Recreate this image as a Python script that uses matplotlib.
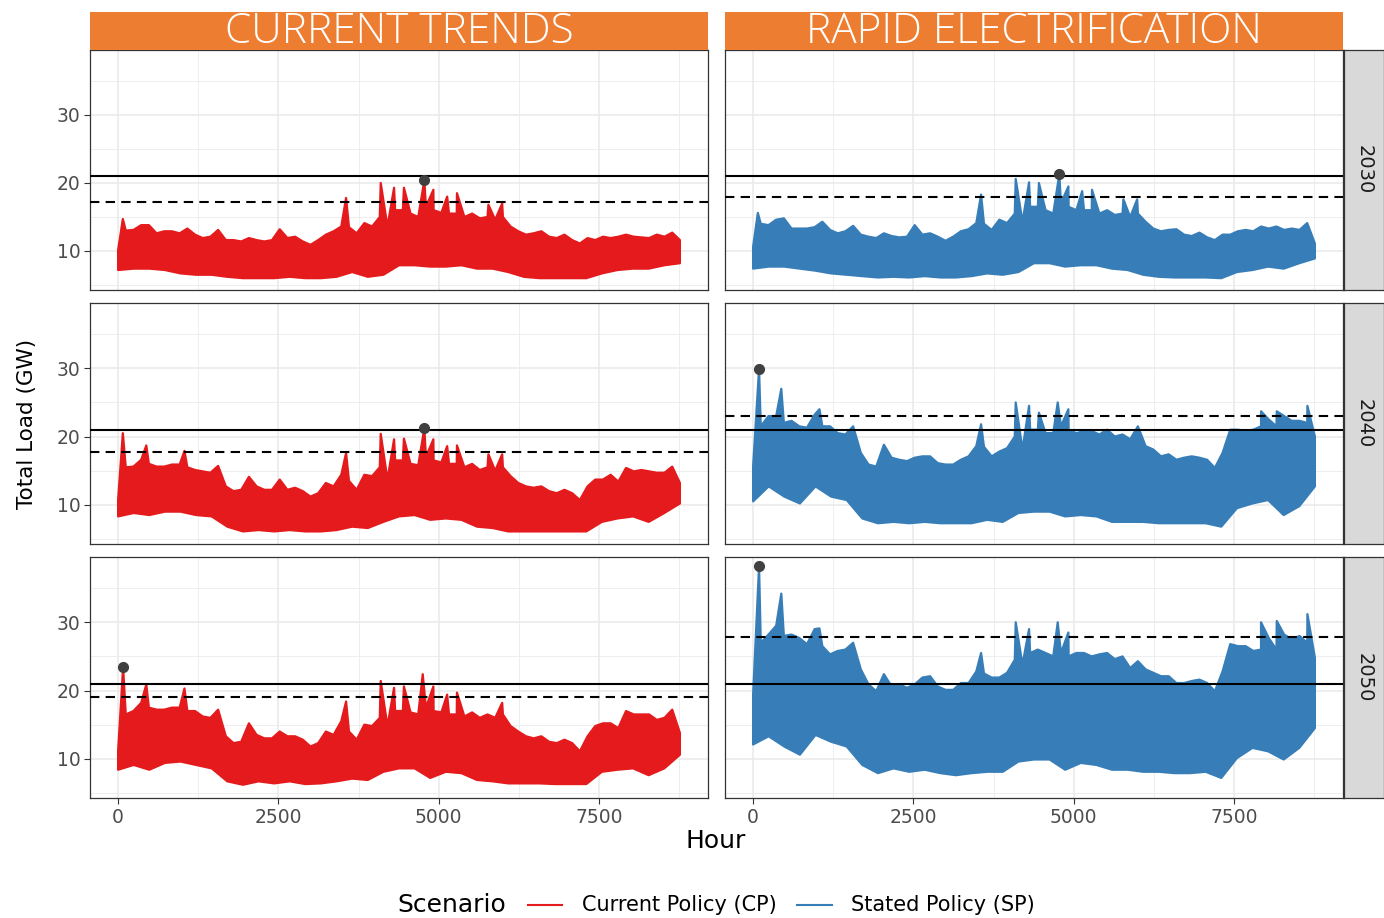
import numpy as np
import matplotlib.pyplot as plt
from matplotlib.lines import Line2D

# hourly load read off as envelopes: upper body every 120 h, lower every ~243 h,
# plus the narrow spikes that stick out above the body
HOURS_HI = np.linspace(0, 8760, 74)
HOURS_LO = np.linspace(0, 8760, 37)

CP_2030_HI = [10.1, 13.0, 13.1, 13.8, 13.8, 12.6, 12.9, 12.9, 12.6, 13.3, 12.4, 11.9, 12.1, 13.1, 11.6,
              11.6, 11.4, 11.9, 11.6, 11.4, 11.6, 13.2, 11.9, 12.1, 11.4, 10.9, 11.6, 12.4, 12.9, 13.6,
              13.5, 12.6, 14.1, 13.6, 15.0, 13.6, 16.0, 16.0, 15.5, 15.0, 16.5, 16.0, 15.6, 15.5, 15.5,
              15.0, 15.5, 14.8, 15.0, 14.6, 15.0, 13.6, 12.9, 12.4, 12.6, 12.9, 12.1, 11.9, 12.4, 11.6,
              11.1, 11.9, 11.6, 12.1, 11.9, 12.1, 12.4, 12.1, 12.0, 11.9, 12.4, 12.1, 12.7, 11.6]
CP_2030_LO = [7.2, 7.4, 7.4, 7.2, 6.7, 6.5, 6.5, 6.2, 6.0, 6.0, 6.0, 6.2, 6.0, 6.0, 6.2, 6.9, 6.2, 6.5,
              7.9, 7.9, 7.7, 7.7, 7.9, 7.4, 7.4, 6.9, 6.2, 6.0, 6.0, 6.0, 6.0, 6.7, 7.2, 7.4, 7.4, 7.9, 8.2]
CP_2030_SPIKE_H = [74, 3555, 4095, 4303, 4457, 4775, 4916, 5131, 5284, 5774, 5989]
CP_2030_SPIKE_V = [14.7, 17.8, 20.0, 19.3, 19.3, 20.4, 19.0, 18.0, 18.5, 16.8, 17.0]

SP_2030_HI = [10.6, 14.0, 13.8, 14.6, 14.8, 13.3, 13.3, 13.3, 13.5, 14.3, 13.1, 12.6, 12.9, 13.7, 12.4,
              12.1, 11.9, 12.6, 12.2, 12.0, 12.1, 13.8, 12.4, 12.6, 12.1, 11.5, 12.1, 12.9, 13.2, 14.1,
              14.0, 13.1, 14.6, 14.1, 15.5, 14.3, 16.5, 16.5, 16.0, 15.5, 17.0, 16.5, 16.0, 16.0, 16.0,
              15.5, 16.0, 15.3, 15.5, 15.0, 15.5, 14.3, 13.3, 12.9, 13.1, 13.2, 12.4, 12.2, 12.7, 12.0,
              11.6, 12.4, 12.4, 12.9, 13.1, 12.9, 13.6, 13.3, 13.6, 13.1, 13.3, 13.1, 14.1, 11.1]
SP_2030_LO = [7.4, 7.7, 7.7, 7.4, 7.1, 6.7, 6.5, 6.3, 6.1, 6.2, 6.1, 6.3, 6.1, 6.1, 6.3, 6.7, 6.5, 6.9,
              8.2, 8.2, 7.7, 7.9, 7.9, 7.4, 7.2, 6.5, 6.2, 6.1, 6.1, 6.1, 6.0, 6.9, 7.2, 7.7, 7.4, 8.2, 8.9]
SP_2030_SPIKE_H = [74, 3555, 4095, 4303, 4457, 4775, 4916, 5131, 5284, 5774, 5989]
SP_2030_SPIKE_V = [15.6, 18.3, 20.6, 20.1, 20.0, 21.3, 19.5, 18.8, 19.0, 17.6, 17.6]

CP_2040_HI = [10.7, 15.5, 15.6, 16.6, 16.0, 15.6, 15.6, 15.9, 15.9, 15.5, 15.1, 14.9, 14.7, 15.7, 12.7,
              12.0, 12.2, 14.1, 12.7, 12.2, 12.2, 13.7, 12.2, 12.5, 12.0, 11.2, 11.7, 13.2, 12.7, 14.4,
              13.5, 12.2, 14.4, 14.2, 15.5, 13.7, 16.5, 16.5, 16.0, 15.8, 17.0, 16.5, 16.2, 16.0, 16.0,
              15.5, 16.0, 15.1, 15.5, 15.0, 15.5, 14.2, 13.2, 12.7, 12.5, 12.7, 12.0, 11.7, 12.2, 11.7,
              10.7, 12.7, 13.7, 13.7, 14.4, 13.4, 15.4, 14.9, 15.1, 14.9, 14.7, 14.7, 15.6, 13.2]
CP_2040_LO = [8.3, 8.8, 8.5, 9.0, 9.0, 8.5, 8.3, 6.8, 6.1, 6.3, 6.1, 6.3, 6.1, 6.1, 6.3, 6.8, 6.6, 7.5,
              8.3, 8.5, 7.8, 8.0, 7.8, 6.8, 6.6, 6.1, 6.1, 6.1, 6.1, 6.1, 6.1, 7.5, 8.0, 8.3, 7.5, 8.8, 10.2]
CP_2040_SPIKE_H = [74, 440, 1035, 3555, 4095, 4303, 4457, 4775, 4916, 5131, 5284, 5774, 5989]
CP_2040_SPIKE_V = [20.5, 18.7, 17.9, 17.6, 20.4, 19.6, 19.7, 21.2, 19.6, 18.6, 18.7, 17.4, 17.4]

SP_2040_HI = [15.6, 21.5, 23.0, 23.0, 22.0, 22.3, 21.5, 21.3, 23.2, 21.5, 21.5, 20.5, 20.3, 21.5, 17.6,
              15.9, 15.6, 18.8, 16.9, 16.6, 16.4, 16.9, 17.1, 17.1, 16.1, 15.9, 15.9, 16.6, 17.1, 18.6,
              18.5, 17.1, 17.8, 18.3, 20.0, 18.1, 21.0, 21.0, 20.5, 20.5, 21.5, 21.0, 20.5, 20.8, 20.8,
              20.3, 21.0, 20.0, 20.3, 19.6, 21.5, 18.6, 18.1, 17.1, 17.4, 16.6, 16.9, 17.1, 16.9, 16.6,
              15.4, 17.6, 21.0, 21.0, 20.8, 21.0, 21.5, 22.5, 21.5, 23.0, 22.3, 22.3, 22.0, 20.0]
SP_2040_LO = [10.5, 12.7, 11.2, 10.2, 12.7, 11.2, 10.7, 8.0, 7.3, 7.5, 7.3, 7.5, 7.3, 7.3, 7.3, 7.8, 7.5,
              8.8, 9.0, 9.0, 8.3, 8.5, 8.3, 7.5, 7.5, 7.5, 7.3, 7.3, 7.3, 7.3, 6.8, 9.5, 10.2, 10.7, 8.5,
              9.8, 12.7]
SP_2040_SPIKE_H = [93, 440, 1035, 3555, 4095, 4303, 4457, 4750, 4916, 7920, 8165, 8643]
SP_2040_SPIKE_V = [29.9, 27.0, 24.0, 21.8, 25.0, 24.5, 23.5, 25.0, 24.0, 23.7, 23.7, 24.5]

CP_2050_HI = [11.1, 16.5, 17.0, 18.2, 17.5, 17.2, 17.2, 17.5, 17.5, 17.0, 17.0, 16.2, 16.0, 17.2, 13.3,
              12.3, 12.5, 15.2, 13.5, 13.0, 13.0, 14.0, 13.3, 13.3, 12.8, 11.8, 12.3, 14.0, 13.5, 15.5,
              14.0, 12.8, 15.0, 14.8, 16.0, 14.8, 17.0, 17.0, 16.8, 16.5, 17.5, 17.0, 16.8, 16.5, 16.5,
              16.2, 16.8, 16.0, 16.5, 16.0, 16.5, 14.8, 14.0, 13.3, 13.0, 13.3, 12.5, 12.3, 12.8, 12.3,
              11.1, 13.3, 14.8, 15.2, 15.2, 14.5, 17.0, 16.5, 16.5, 16.5, 15.7, 16.0, 17.2, 13.8]
CP_2050_LO = [8.4, 9.1, 8.4, 9.4, 9.6, 9.1, 8.6, 6.7, 6.2, 6.7, 6.4, 6.7, 6.3, 6.4, 6.7, 7.1, 6.9, 8.1,
              8.6, 8.6, 7.2, 8.1, 7.9, 6.9, 6.7, 6.4, 6.4, 6.4, 6.3, 6.3, 6.3, 8.1, 8.4, 8.6, 7.6, 8.6, 10.6]
CP_2050_SPIKE_H = [78, 440, 1035, 3555, 4095, 4303, 4457, 4750, 4916, 5131, 5284, 5989]
CP_2050_SPIKE_V = [23.4, 20.9, 20.3, 18.4, 21.4, 20.4, 20.6, 22.4, 20.6, 19.4, 19.7, 18.2]

SP_2050_HI = [19.4, 27.0, 28.2, 29.5, 28.0, 28.2, 27.7, 26.8, 29.0, 26.5, 25.3, 25.8, 26.0, 27.0, 23.1,
              20.9, 19.9, 22.4, 20.6, 20.9, 20.4, 20.9, 21.9, 22.1, 20.6, 20.1, 20.1, 21.1, 21.1, 22.8,
              22.5, 21.9, 21.9, 22.6, 24.5, 23.8, 25.5, 26.0, 25.5, 25.0, 25.5, 25.0, 25.5, 25.5, 25.0,
              25.3, 25.5, 24.6, 25.0, 23.3, 24.3, 23.1, 22.6, 22.1, 22.1, 21.1, 21.1, 21.4, 21.6, 21.1,
              19.9, 22.8, 26.8, 26.5, 26.5, 25.8, 26.0, 27.7, 26.0, 28.2, 27.5, 28.0, 27.0, 24.8]
SP_2050_LO = [12.1, 13.3, 11.8, 10.6, 13.5, 12.5, 11.8, 9.1, 7.9, 8.6, 8.1, 8.4, 7.9, 7.6, 7.9, 8.1, 8.1,
              9.6, 9.9, 9.9, 8.4, 9.4, 9.1, 8.4, 8.4, 8.1, 8.1, 7.9, 7.9, 8.1, 7.2, 10.1, 11.6, 11.1, 9.9,
              11.6, 14.5]
SP_2050_SPIKE_H = [93, 440, 1035, 3555, 4095, 4303, 4750, 4916, 7920, 8165, 8643]
SP_2050_SPIKE_V = [38.2, 34.2, 29.1, 25.5, 30.0, 29.0, 30.0, 28.5, 30.0, 30.2, 31.2]

YEARS = ['2030', '2040', '2050']
PANEL_TITLES = ['CURRENT TRENDS', 'RAPID ELECTRIFICATION']
SCENARIOS = ['Current Policy (CP)', 'Stated Policy (SP)']
CAPACITY = 21.0
CP_DASHED = [17.2, 17.8, 19.0]
SP_DASHED = [17.9, 23.0, 27.8]
CP_PEAK_HOUR = [4775, 4775, 78]
CP_PEAK_LOAD = [20.4, 21.2, 23.4]
SP_PEAK_HOUR = [4775, 93, 93]
SP_PEAK_LOAD = [21.3, 29.9, 38.2]

COLORS = ['#E41A1C', '#377EB8']
ORANGE = '#ED7D31'

series = {
    (0, 0): (CP_2030_HI, CP_2030_LO, CP_2030_SPIKE_H, CP_2030_SPIKE_V),
    (1, 0): (CP_2040_HI, CP_2040_LO, CP_2040_SPIKE_H, CP_2040_SPIKE_V),
    (2, 0): (CP_2050_HI, CP_2050_LO, CP_2050_SPIKE_H, CP_2050_SPIKE_V),
    (0, 1): (SP_2030_HI, SP_2030_LO, SP_2030_SPIKE_H, SP_2030_SPIKE_V),
    (1, 1): (SP_2040_HI, SP_2040_LO, SP_2040_SPIKE_H, SP_2040_SPIKE_V),
    (2, 1): (SP_2050_HI, SP_2050_LO, SP_2050_SPIKE_H, SP_2050_SPIKE_V),
}

plt.rcParams['font.family'] = ['DejaVu Sans']

W, H = 1384, 918
fig = plt.figure(figsize=(W / 100, H / 100), dpi=100)


def box(x0, y0, x1, y1):
    return [x0 / W, 1 - y1 / H, (x1 - x0) / W, (y1 - y0) / H]


col_x = [(90, 708), (725, 1343)]
row_y = [(50, 290), (303, 544), (557, 798)]

for r in range(3):
    for c in range(2):
        ax = fig.add_axes(box(col_x[c][0], row_y[r][0], col_x[c][1], row_y[r][1]))
        hi, lo, sp_h, sp_v = series[(r, c)]
        # upper edge: body samples and spikes together, in time order
        top = sorted(list(zip(HOURS_HI, hi)) + list(zip(sp_h, sp_v)))
        top_x = [p[0] for p in top]
        top_y = [p[1] for p in top]
        xs = np.concatenate([top_x, HOURS_LO[::-1]])
        ys = np.concatenate([top_y, lo[::-1]])
        ax.fill(xs, ys, color=COLORS[c], lw=1.6, ec=COLORS[c], joinstyle='round', zorder=2)

        ax.axhline(CAPACITY, color='black', lw=1.5, zorder=3)
        dashed = CP_DASHED[r] if c == 0 else SP_DASHED[r]
        ax.axhline(dashed, color='black', lw=1.5, ls=(0, (4.5, 3)), zorder=3)
        ph = CP_PEAK_HOUR[r] if c == 0 else SP_PEAK_HOUR[r]
        pl = CP_PEAK_LOAD[r] if c == 0 else SP_PEAK_LOAD[r]
        ax.plot([ph], [pl], 'o', color='#404040', ms=7, zorder=4)

        ax.set_xlim(-438, 9198)
        ax.set_ylim(4.26, 39.56)
        ax.set_xticks([0, 2500, 5000, 7500])
        ax.set_xticks([1250, 3750, 6250, 8750], minor=True)
        ax.set_yticks([10, 20, 30])
        ax.set_yticks([5, 15, 25, 35], minor=True)
        ax.grid(True, which='major', color='#EBEBEB', lw=1.2, zorder=0)
        ax.grid(True, which='minor', color='#EBEBEB', lw=0.6, zorder=0)
        ax.set_axisbelow(True)
        ax.tick_params(which='major', length=4, width=0.8, color='#333333',
                       labelsize=13.5, labelcolor='#4D4D4D', pad=3)
        ax.tick_params(which='minor', length=0)
        for s in ax.spines.values():
            s.set_color('#333333')
            s.set_linewidth(0.9)
        if c != 0:
            ax.tick_params(axis='y', length=0, labelleft=False)
        if r != 2:
            ax.tick_params(axis='x', length=0, labelbottom=False)

        if r == 0:
            sax = fig.add_axes(box(col_x[c][0], 12, col_x[c][1], 50))
            sax.set_facecolor(ORANGE)
            sax.set_xticks([])
            sax.set_yticks([])
            for s in sax.spines.values():
                s.set_visible(False)
            sax.text(0.5, 0.47, PANEL_TITLES[c], ha='center', va='center', color='white',
                     fontsize=30.5, family=['Open Sans', 'DejaVu Sans'], fontweight='light',
                     transform=sax.transAxes)

    gax = fig.add_axes(box(1344, row_y[r][0], 1384, row_y[r][1]))
    gax.set_facecolor('#D9D9D9')
    gax.set_xticks([])
    gax.set_yticks([])
    for s in gax.spines.values():
        s.set_color('#333333')
        s.set_linewidth(0.9)
    gax.text(0.5, 0.5, YEARS[r], rotation=-90, ha='center', va='center',
             fontsize=14, color='#1A1A1A', transform=gax.transAxes)

fig.text(27 / W, 1 - 424 / H, 'Total Load (GW)', rotation=90, ha='center', va='center',
         fontsize=15.5, color='black')
fig.text(716 / W, 1 - 841 / H, 'Hour', ha='center', va='center', fontsize=18, color='black')

# legend row: title on the left, keys laid out in one line
ly = 1 - 905 / H
fig.text(452 / W, ly, 'Scenario', ha='center', va='center', fontsize=18)
key_x = [(528, 562, 582), (797, 832, 851)]
for i, (x0, x1, tx) in enumerate(key_x):
    fig.add_artist(Line2D([x0 / W, x1 / W], [ly, ly], color=COLORS[i], lw=1.5,
                          transform=fig.transFigure))
    fig.text(tx / W, ly, SCENARIOS[i], ha='left', va='center', fontsize=15)

fig.savefig('out.png', dpi=100)
